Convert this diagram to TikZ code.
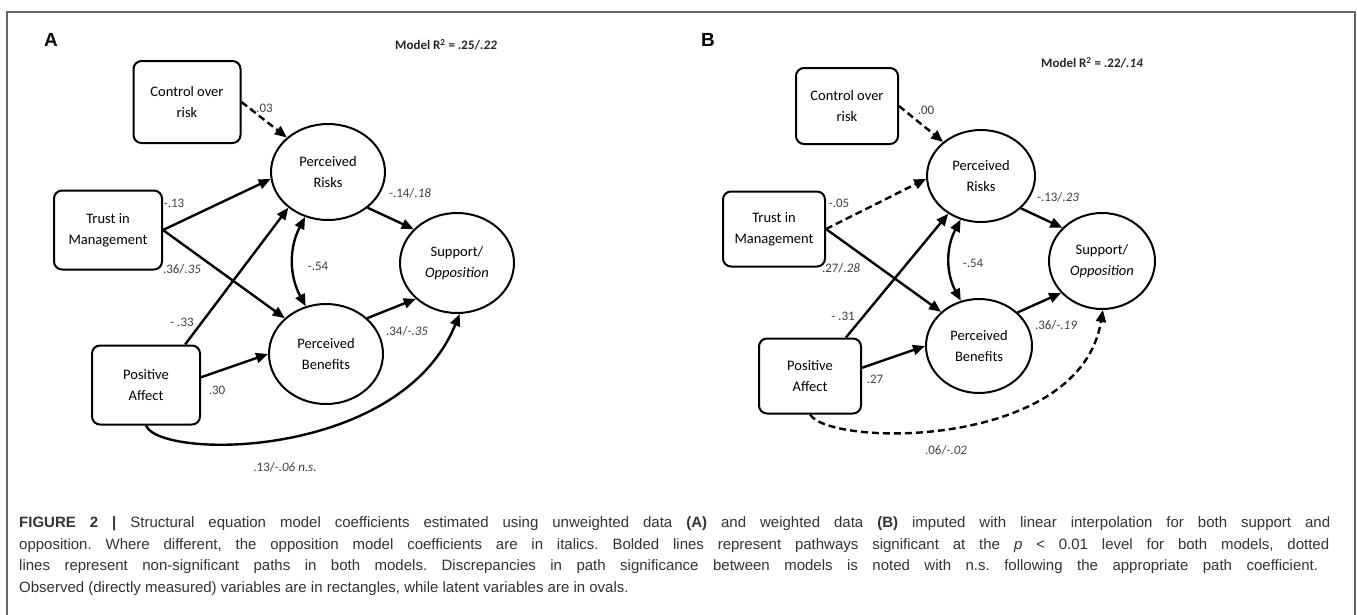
\documentclass[tikz,border=0pt]{standalone}
\usepackage{fontspec}
\setmainfont{Carlito}
\newfontfamily\capfont{Liberation Sans}
\usetikzlibrary{arrows.meta,shapes.geometric,calc}
\definecolor{lblgray}{gray}{0.25}
\definecolor{capgray}{gray}{0.2}
\definecolor{framegray}{gray}{0.4}
\frenchspacing
\tikzset{
  obsbox/.style={draw, line width=2pt, rounded corners=8pt, align=center, font=\fontsize{14.5}{21}\selectfont, inner sep=0pt},
  latent/.style={draw, ellipse, line width=2pt, align=center, font=\fontsize{14.5}{21}\selectfont, inner sep=0pt},
  path/.style={line width=2.4pt, -{Triangle[length=12pt,width=10pt]}},
  nspath/.style={path, dash pattern=on 7pt off 4pt},
  dblpath/.style={line width=2.4pt, {Triangle[length=12pt,width=10pt]}-{Triangle[length=12pt,width=10pt]}},
  coef/.style={text=lblgray, font=\fontsize{13}{15}\selectfont, inner sep=1pt},
  caption/.style={anchor=base west, text=capgray, font=\capfont\fontsize{15}{18}\selectfont, inner sep=0pt},
  panel/.style={font=\capfont\bfseries\fontsize{19}{22}\selectfont, inner sep=0pt},
  rsq/.style={font=\bfseries\fontsize{13}{15}\selectfont, text=black!85, inner sep=0pt}
}
\begin{document}
\begin{tikzpicture}[x=1pt,y=-1pt]
\useasboundingbox (0,0) rectangle (1357,614);
\fill[white] (0,0) rectangle (1357,614);
\draw[framegray, line width=1.2pt] (7,620) -- (7,12) -- (1355,12) -- (1355,620);

% ---------- Panel A ----------
\node[panel] (labA) at (51,40) {A};
\node[rsq] (rsqA) at (446,45) {Model R\textsuperscript{2} = .25/\textit{.22}};

\node[obsbox, minimum width=107pt, minimum height=82pt] (ctrlA) at (187,102) {Control over\\risk};
\node[obsbox, minimum width=108pt, minimum height=79pt] (trustA) at (108,230) {Trust in\\Management};
\node[obsbox, minimum width=108pt, minimum height=79pt] (posA) at (146,385) {Positive\\Affect};
\node[latent, minimum width=114pt, minimum height=96pt] (prA) at (328,172) {Perceived\\Risks};
\node[latent, minimum width=114pt, minimum height=100pt] (pbA) at (326,354) {Perceived\\Benefits};
\node[latent, minimum width=114pt, minimum height=100pt] (supA) at (457,263) {Support/\\\textit{Opposition}};

\draw[nspath] (ctrlA.east) -- (prA.140);
\draw[path] (trustA.east) -- (prA.187);
\draw[path] (trustA.east) -- (pbA.139);
\draw[path] (posA.46) -- (prA.222);
\draw[path] (posA.8) -- (pbA.180);
\draw[dblpath] (prA.243) to[bend right=28] (pbA.113);
\draw[path] (prA.-42) -- (supA.142);
\draw[path] (pbA.41) -- (supA.221);
\draw[path] (posA.south) .. controls (160,460) and (400,460) .. (supA.-87);

\node[coef] (cA1) at (261,108) {- .03};
\node[coef] (cA2) at (174,203) {-.13};
\node[coef] (cA3) at (182,269) {.36/\textit{.35}};
\node[coef] (cA4) at (182,322) {- .33};
\node[coef] (cA5) at (217,390) {.30};
\node[coef] (cA6) at (318,266) {-.54};
\node[coef] (cA7) at (410,193) {-.14/\textit{.18}};
\node[coef] (cA8) at (407,331) {.34/\textit{-.35}};
\node[coef] (cA9) at (285,467) {.13/\textit{-.06 n.s.}};

% ---------- Panel B ----------
\node[panel] (labB) at (708,40) {B};
\node[rsq] (rsqB) at (1092,63) {Model R\textsuperscript{2} = .22/\textit{.14}};

\node[obsbox, minimum width=102pt, minimum height=76pt] (ctrlB) at (847,106) {Control over\\risk};
\node[obsbox, minimum width=102pt, minimum height=75pt] (trustB) at (774,229) {Trust in\\Management};
\node[obsbox, minimum width=102pt, minimum height=75pt] (posB) at (810,376) {Positive\\Affect};
\node[latent, minimum width=108pt, minimum height=92pt] (prB) at (981,176) {Perceived\\Risks};
\node[latent, minimum width=106pt, minimum height=94pt] (pbB) at (979,346) {Perceived\\Benefits};
\node[latent, minimum width=106pt, minimum height=96pt] (supB) at (1102,261) {Support/\\\textit{Opposition}};

\draw[nspath] (ctrlB.east) -- (prB.138);
\draw[nspath] (trustB.east) -- (prB.183);
\draw[path] (trustB.east) -- (pbB.138);
\draw[path] (posB.47) -- (prB.229);
\draw[path] (posB.9) -- (pbB.180);
\draw[dblpath] (prB.245) to[bend right=28] (pbB.112);
\draw[path] (prB.-39) -- (supB.140);
\draw[path] (pbB.41) -- (supB.218);
\draw[nspath] (posB.south) .. controls (830,447) and (1080,450) .. (supB.-89);

\node[coef] (cB1) at (926,110) {.00};
\node[coef] (cB2) at (839,203) {-.05};
\node[coef] (cB3) at (841,268) {.27/\textit{.28}};
\node[coef] (cB4) at (843,316) {- .31};
\node[coef] (cB5) at (875,379) {.27};
\node[coef] (cB6) at (973,263) {-.54};
\node[coef] (cB7) at (1058,197) {-.13/\textit{.23}};
\node[coef] (cB8) at (1056,325) {.36/\textit{-.19}};
\node[coef] (cB9) at (946,450) {.06/\textit{-.02}};

% ---------- Caption ----------
\node[caption] (cap1) at (19,527) {\makebox[1311pt][s]{\textbf{FIGURE 2 |} Structural equation model coefficients estimated using unweighted data \textbf{(A)} and weighted data \textbf{(B)} imputed with linear interpolation for both support and}};
\node[caption] (cap2) at (19,549) {\makebox[1310pt][s]{opposition. Where different, the opposition model coefficients are in italics. Bolded lines represent pathways significant at the \textit{p} \textless{} 0.01 level for both models, dotted}};
\node[caption] (cap3) at (19,570) {\makebox[1299pt][s]{lines represent non-significant paths in both models. Discrepancies in path significance between models is noted with n.s. following the appropriate path coefficient.}};
\node[caption] (cap4) at (19,592) {Observed (directly measured) variables are in rectangles, while latent variables are in ovals.};
\end{tikzpicture}
\end{document}
